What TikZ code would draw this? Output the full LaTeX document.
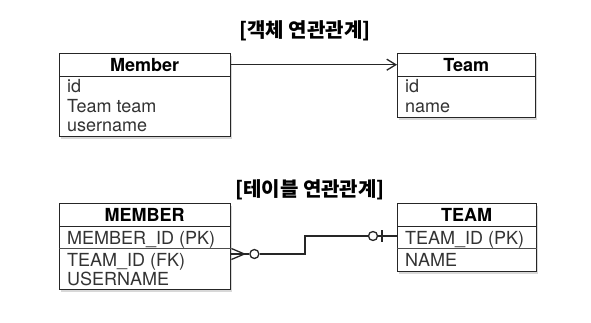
\documentclass[tikz,border=0pt]{standalone}
\usepackage{fontspec}
\setmainfont{TeX Gyre Heros}
\newfontfamily\kr{Noto Sans CJK KR}
\usetikzlibrary{arrows.meta,shadows,calc}
\begin{document}
\begin{tikzpicture}[x=1pt,y=-1pt,
  tbl/.style={draw=black!85, line width=1.4pt, fill=white, anchor=north west, inner sep=0pt,
    drop shadow={shadow xshift=1.5pt, shadow yshift=-2pt, opacity=0.3}},
  hd/.style={anchor=north west, inner sep=0pt, font=\fontsize{18}{21}\selectfont\bfseries},
  row/.style={anchor=base west, inner sep=0pt, font=\fontsize{18}{21}\selectfont, text=black!80},
  ttl/.style={font=\kr\fontsize{20}{24}\selectfont\bfseries, inner sep=0pt},
  conn/.style={line width=1.3pt, draw=black!85},
  sepl/.style={line width=1.3pt, draw=black!85},
  circ/.style={circle, draw=black!85, line width=1.3pt, fill=white, minimum size=9pt, inner sep=0pt}
]
\useasboundingbox[fill=white] (0,0) rectangle (591,323);

% ---------- object relation ----------
\node[ttl] (t1) at (305,31) {[객체 연관관계]};

\node[tbl, minimum width=171pt, minimum height=83pt] (member) at (59,53) {};
\node[hd, minimum width=171pt, minimum height=23pt] (memberhd) at (59,53) {Member};
\draw[sepl] (memberhd.south west) -- (memberhd.south east);
\node[row] (mid) at (67,92.5) {id};
\node[row] (mteam) at (67,112.5) {Team team};
\node[row] (muser) at (67,131.5) {username};

\node[tbl, minimum width=138pt, minimum height=64pt] (team) at (397,53) {};
\node[hd, minimum width=138pt, minimum height=23pt] (teamhd) at (397,53) {Team};
\draw[sepl] (teamhd.south west) -- (teamhd.south east);
\node[row] (tid) at (405,92.5) {id};
\node[row] (tname) at (405,112.5) {name};

\draw[conn, -{Straight Barb[length=9pt,width=11pt]}] (memberhd.east) -- (teamhd.west);

% ---------- table relation ----------
\node[ttl] (t2) at (310,189.5) {[테이블 연관관계]};

\node[tbl, minimum width=171pt, minimum height=86pt] (MEMBER) at (59,203) {};
\node[hd, minimum width=171pt, minimum height=23pt] (MEMBERhd) at (59,203) {MEMBER};
\draw[sepl] (MEMBERhd.south west) -- (MEMBERhd.south east);
\draw[line width=0.9pt, black!70] ($(MEMBER.north west)+(0,45)$) -- ($(MEMBER.north east)+(0,45)$);
\node[row] (mpk) at (67,244.5) {MEMBER\_ID (PK)};
\node[row] (mfk) at (67,266) {TEAM\_ID (FK)};
\node[row] (musr) at (67,285) {USERNAME};

\node[tbl, minimum width=139pt, minimum height=68pt] (TEAM) at (397,203) {};
\node[hd, minimum width=139pt, minimum height=23pt] (TEAMhd) at (397,203) {TEAM};
\draw[sepl] (TEAMhd.south west) -- (TEAMhd.south east);
\draw[line width=0.9pt, black!70] ($(TEAM.north west)+(0,45)$) -- ($(TEAM.north east)+(0,45)$);
\node[row] (tpk) at (405,244.5) {TEAM\_ID (PK)};
\node[row] (tnm) at (405,266) {NAME};

% connector
\coordinate (fk) at ($(MEMBER.north east)+(0,51)$);
\coordinate (cf) at ($(fk)+(13,0)$);
\coordinate (pk) at ($(TEAM.north west)+(0,33)$);
\draw[conn] (cf) -- ($(fk)+(0,-5.5)$);
\draw[conn] (cf) -- (fk);
\draw[conn] (cf) -- ($(fk)+(0,5.5)$);
\node[circ] (c1) at ($(fk)+(23,0)$) {};
\node[circ] (c2) at ($(pk)+(-24,0)$) {};
\draw[conn] (cf) -- (c1.west);
\draw[conn] (c1.east) -- ++(45.5,0) |- (c2.west);
\draw[conn] (c2.east) -- (pk);
\draw[conn] ($(pk)+(-15,-6)$) -- ($(pk)+(-15,6)$);
\end{tikzpicture}
\end{document}
